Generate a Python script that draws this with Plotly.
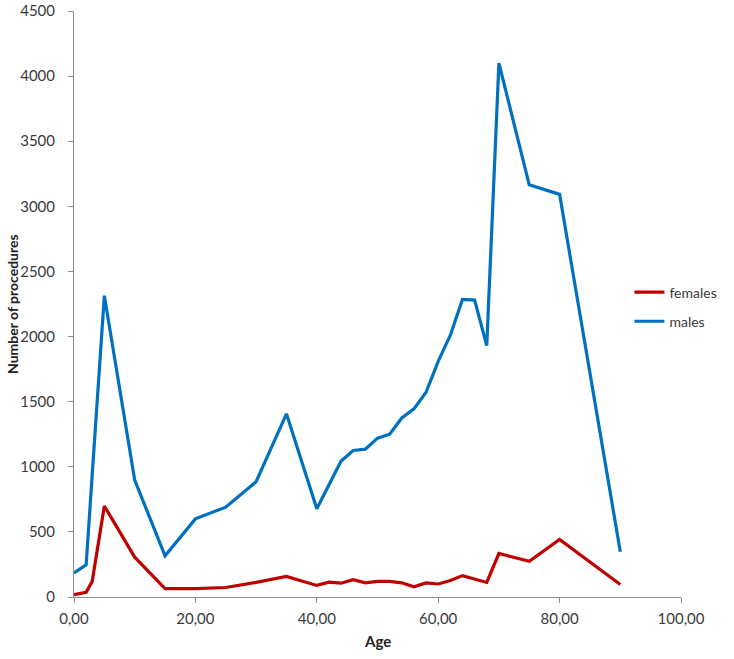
import plotly.graph_objects as go

# Age groups and number of procedures
ages = [0, 2, 3, 5, 10, 15, 20, 25, 30, 35, 40, 42, 44, 46, 48, 50, 52, 54,
        56, 58, 60, 62, 64, 66, 68, 70, 75, 80, 90]
males = [184, 247, 940, 2314, 898, 316, 600, 690, 885, 1407, 677, 865, 1045,
         1125, 1135, 1220, 1250, 1375, 1445, 1572, 1810, 2010, 2285, 2280,
         1930, 4100, 3165, 3092, 347]
females = [18, 36, 120, 699, 306, 64, 65, 73, 112, 158, 89, 114, 106, 133,
           109, 120, 120, 109, 78, 108, 100, 126, 164, 135, 112, 334, 275,
           441, 96]

x_ticks = [0, 20, 40, 60, 80, 100]
x_tick_labels = ["0,00", "20,00", "40,00", "60,00", "80,00", "100,00"]

fig = go.Figure()

fig.add_trace(go.Scatter(
    x=ages, y=females, mode="lines", name="females",
    line=dict(color="#C00000", width=3.2), legendgroup="f"
))
fig.add_trace(go.Scatter(
    x=ages, y=males, mode="lines", name="males",
    line=dict(color="#0070C0", width=3.2), legendgroup="m"
))

axis_color = "#8c8c8c"
plot_w = 734 - 74 - 53

fig.update_layout(
    width=734, height=659,
    margin=dict(l=74, r=53, t=11, b=62),
    plot_bgcolor="white", paper_bgcolor="white",
    font=dict(family="Lato, Open Sans, sans-serif", size=15, color="#3a3a3a"),
    showlegend=True,
    legend=dict(
        x=0.915, xanchor="left", y=0.547, yanchor="top",
        bgcolor="rgba(0,0,0,0)", tracegroupgap=8,
        font=dict(size=14, color="#3a3a3a")
    ),
    xaxis=dict(
        range=[0, 100], tickvals=x_ticks, ticktext=x_tick_labels,
        showgrid=False, zeroline=False, automargin=False,
        showline=True, linecolor=axis_color, linewidth=1,
        ticks="outside", ticklen=5, tickcolor=axis_color,
        ticklabelstandoff=3, ticklabeloverflow="allow",
    ),
    yaxis=dict(
        range=[0, 4500], dtick=500, tickformat="d",
        showgrid=False, zeroline=False, automargin=False,
        showline=True, linecolor=axis_color, linewidth=1,
        ticks="outside", ticklen=5, tickcolor=axis_color,
        ticklabelstandoff=10, ticklabeloverflow="allow",
    ),
)

# axis titles as annotations so they sit where the original has them
fig.add_annotation(
    text="<b>Age</b>", xref="paper", yref="paper", x=0.5, y=0,
    yshift=-44, xanchor="center", yanchor="middle", showarrow=False,
    font=dict(size=15, color="#222222")
)
fig.add_annotation(
    text="<b>Number of procedures</b>", xref="paper", yref="paper",
    x=-62 / plot_w, y=0.5, xanchor="center", yanchor="middle",
    textangle=-90, showarrow=False, font=dict(size=14, color="#222222")
)

# drop the browser's default body margin so the figure fills the window
fig.write_html("out.html", config={"displayModeBar": False},
               post_script="document.body.style.margin='0px';")
